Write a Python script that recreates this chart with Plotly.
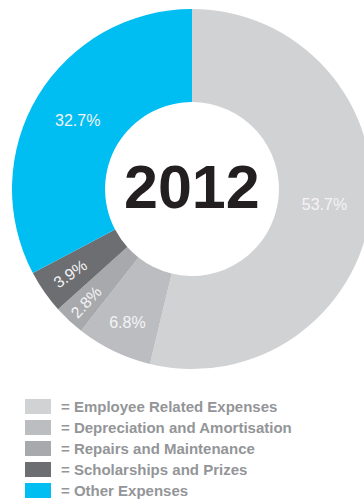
import plotly.graph_objects as go

# Expense breakdown for 2012 (percent of total)
categories = [
    "Employee Related Expenses",
    "Depreciation and Amortisation",
    "Repairs and Maintenance",
    "Scholarships and Prizes",
    "Other Expenses",
]
shares = [53.7, 6.8, 2.8, 3.9, 32.7]
colors = ["#d1d2d4", "#bcbdc0", "#a7a9ac", "#6d6e71", "#00bdf2"]
year_label = "2012"

W, H = 384, 501
FONT = "Liberation Sans, Arial, Helvetica, sans-serif"
SMALL = 5.0  # slices below this share get radial labels


def px_x(x):
    return x / W


def px_y(y):
    return 1 - y / H


pct = [f"{v:.1f}%" for v in shares]
ring = dict(
    labels=categories,
    values=shares,
    texttemplate="%{text}",
    textinfo="text",
    textposition="inside",
    textfont=dict(family=FONT, size=16, color="#f4f4f5"),
    hole=0.483,
    sort=False,
    direction="clockwise",
    rotation=0,
    domain=dict(x=[0, 1], y=[px_y(369), px_y(9)]),
    showlegend=False,
)

fig = go.Figure()
# Coloured ring with horizontal labels on the wider slices
fig.add_trace(
    go.Pie(
        **ring,
        text=[t if v >= SMALL else "" for t, v in zip(pct, shares)],
        insidetextorientation="horizontal",
        marker=dict(colors=colors, line=dict(width=0)),
        hoverinfo="label+value",
    )
)
# Same ring, transparent, carrying radial labels for the thin slices
fig.add_trace(
    go.Pie(
        **ring,
        text=[t if v < SMALL else "" for t, v in zip(pct, shares)],
        insidetextorientation="radial",
        marker=dict(colors=["rgba(0,0,0,0)"] * len(shares), line=dict(width=0)),
        hoverinfo="skip",
    )
)

# Year in the centre of the ring
annotations = [
    dict(
        text=f"<b>{year_label}</b>",
        x=0.5, y=px_y(187), xref="paper", yref="paper",
        xanchor="center", yanchor="middle", showarrow=False,
        font=dict(family=FONT, size=61, color="#231f20"),
    )
]

# Key below the chart: swatch + "= name" for each category
shapes = []
row0, row_step = 399, 21
for i, (name, col) in enumerate(zip(categories, colors)):
    top = row0 + i * row_step
    shapes.append(
        dict(
            type="rect", xref="paper", yref="paper",
            x0=px_x(25), x1=px_x(51), y0=px_y(top + 15), y1=px_y(top),
            fillcolor=col, line=dict(width=0),
        )
    )
    annotations.append(
        dict(
            text=f"<b>= {name}</b>",
            x=px_x(59), y=px_y(top + 7.5), xref="paper", yref="paper",
            xanchor="left", yanchor="middle", showarrow=False,
            font=dict(family=FONT, size=15, color="#939598"),
        )
    )

fig.update_layout(
    width=W,
    height=H,
    margin=dict(l=0, r=0, t=0, b=0),
    paper_bgcolor="white",
    plot_bgcolor="white",
    annotations=annotations,
    shapes=shapes,
)

fig.write_html("out.html", post_script="document.body.style.overflow='hidden';")
